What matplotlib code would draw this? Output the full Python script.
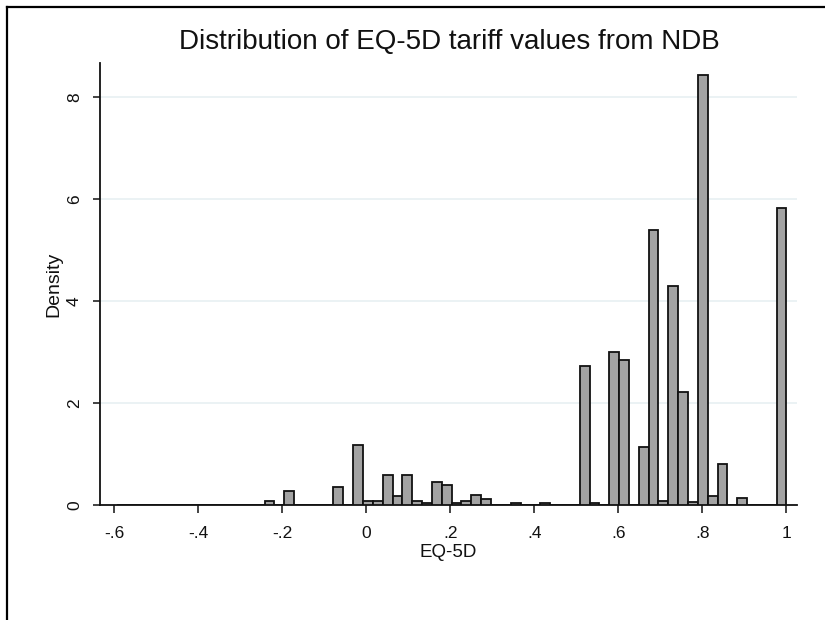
"""
EQ-5D tariff distribution (NDB) histogram
"""
import matplotlib
matplotlib.use('Agg')
import matplotlib.pyplot as plt
from matplotlib.lines import Line2D
import numpy as np

plt.rcParams['font.family'] = ['Liberation Sans', 'DejaVu Sans']

BAR = '#A3A3A3'
GRID = '#E8F0F2'
BLACK = '#111111'

# histogram bins: 68 bins from the sample minimum up to 1
bin_start = -0.594
bin_end = 1.0
n_bins = 68
density = [
    0, 0, 0, 0, 0, 0, 0, 0, 0, 0,
    0, 0, 0, 0, 0, 0.085, 0, 0.28, 0, 0,
    0, 0, 0.35, 0, 1.17, 0.07, 0.08, 0.59, 0.18, 0.59,
    0.08, 0.04, 0.46, 0.39, 0.04, 0.08, 0.20, 0.12, 0, 0,
    0.04, 0, 0, 0.04, 0, 0, 0, 2.73, 0.04, 0,
    3.00, 2.84, 0, 1.13, 5.39, 0.08, 4.29, 2.22, 0.06, 8.44,
    0.18, 0.80, 0, 0.14, 0, 0, 0, 5.83,
]

xticks = [-0.6, -0.4, -0.2, 0, 0.2, 0.4, 0.6, 0.8, 1.0]
xtick_labels = ['-.6', '-.4', '-.2', '0', '.2', '.4', '.6', '.8', '1']
yticks = [0, 2, 4, 6, 8]

edges = np.linspace(bin_start, bin_end, n_bins + 1)
width = edges[1] - edges[0]

fig = plt.figure(figsize=(8.25, 6.2), dpi=100, facecolor='white')
ax = fig.add_axes([100 / 825, 115 / 620, 697 / 825, 442 / 620])
ax.set_facecolor('white')

ax.bar(edges[:-1], density, width=width, align='edge', color=BAR,
       edgecolor=BLACK, linewidth=1.3, zorder=3)

ax.set_xlim(-0.634, 1.025)
ax.set_ylim(0, 8.67)
ax.set_xticks(xticks)
ax.set_xticklabels(xtick_labels)
ax.set_yticks(yticks)

ax.yaxis.grid(True, color=GRID, linewidth=1.2, zorder=0)
ax.set_axisbelow(True)

for side in ['top', 'right']:
    ax.spines[side].set_visible(False)
for side in ['left', 'bottom']:
    ax.spines[side].set_color(BLACK)
    ax.spines[side].set_linewidth(1.3)

ax.tick_params(axis='x', length=6, width=1.1, pad=9, labelsize=12.5, colors=BLACK)
ax.tick_params(axis='y', length=5, width=1.1, pad=8, labelsize=12.5, colors=BLACK)
for lbl in ax.get_yticklabels():
    lbl.set_rotation(90)
    lbl.set_va('center')

ax.set_xlabel('EQ-5D', fontsize=13.5, color=BLACK, labelpad=2)
ax.set_ylabel('Density', fontsize=14, color=BLACK)
ax.yaxis.set_label_coords(-0.054, 0.5)

fig.text(449 / 825, 1 - 42 / 620, 'Distribution of EQ-5D tariff values from NDB',
         ha='center', va='center', fontsize=20, color=BLACK)

# outer frame (top and left edges)
fig.add_artist(Line2D([7 / 825, 1], [1 - 7 / 620, 1 - 7 / 620],
                      transform=fig.transFigure, color='black', linewidth=1.6))
fig.add_artist(Line2D([7 / 825, 7 / 825], [0, 1 - 7 / 620],
                      transform=fig.transFigure, color='black', linewidth=1.6))

plt.savefig('out.png', dpi=100, facecolor='white')
plt.close()
